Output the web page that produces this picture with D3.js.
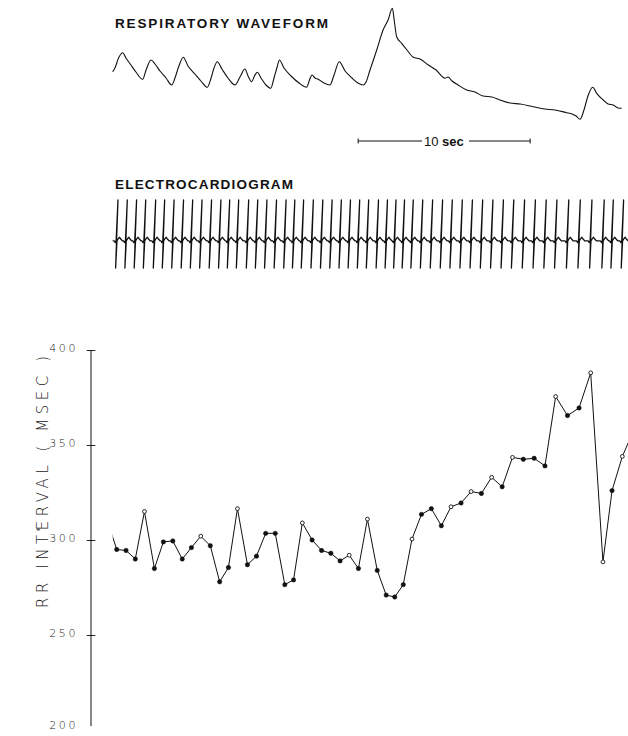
<!DOCTYPE html>
<html><head><meta charset="utf-8">
<script src="https://cdn.jsdelivr.net/npm/d3@7"></script>
<style>body{margin:0;background:#fff}svg{display:block}</style>
</head><body><svg id="c" width="628" height="736"></svg>
<script>
// ---- Respiratory waveform (time in s, amplitude arbitrary units) ----
const respTime = [0,0.13,0.34,0.58,0.77,1.06,1.35,1.74,1.94,2.23,2.46,2.75,3.10,3.43,3.62,3.85,4.10,4.38,4.78,5.13,5.50,5.72,5.89,6.08,6.35,6.70,7.11,7.40,7.69,7.87,8.08,8.24,8.41,8.62,8.91,9.19,9.38,9.56,9.69,9.96,10.37,10.83,11.28,11.44,11.59,11.76,11.95,12.28,12.63,12.87,13.17,13.51,13.91,14.26,14.57,14.73,14.96,15.35,15.72,16.01,16.26,16.38,16.51,16.80,17.11,17.48,17.87,18.35,18.80,19.32,19.49,19.73,20.08,20.58,21.06,21.53,22.05,22.52,23.10,23.69,24.45,25.13,25.72,26.40,26.71,26.94,27.17,27.40,27.63,27.91,28.14,28.52,28.80,29.10,29.38,29.59];
const respAmp  = [48.3,52,62,67.3,62,55,48,40.7,50,60,56,49,42,35,42,54,62.7,54,46,39,32.7,42,52,58.3,51,42,35,43,51,44,38.3,44,47.7,42,35,31.7,42,53,60,52,44,37,32.7,40,45,42,40.7,37,35,45,58.3,49,42,37,35,38,50,70,90,100,111.7,98,83.3,76.7,70,62.7,61,55,50,41.7,43,39,35,30,28,24,23,20,17,16,13.3,11,10,7.3,6,4,0.7,10,24,32.7,26.7,20,16,15,12,11.7];
const scaleBarSec = 10;
const scaleBarStart = 14.27;

// ---- RR interval series (ms); first value is the lead-in beat ----
const rrValues = [311,295,294.5,290,315,285,299,299.5,290,296,302,297,278,285.5,316.5,287,291.5,303.5,303.5,276.5,279,309,300,294.5,293,289,292,285,311,284,271,270,276.5,300.5,313.5,316.5,307.5,317.5,319.5,325.5,324.5,333,328,343.5,342.5,343,339,375.5,365.5,369.5,388,288.5,326,344,357];
const rrOpen = [4,10,14,21,26,28,33,37,39,41,43,47,50,51,53];
const rrTicks = [200,250,300,350,400];

// ---- ECG beat template: [ms offset from beat, mV] ----
const ecgTemplate = [[-75,0],[-45,-0.04],[-18,0.01],[40,1.0],[-35,-0.66],[8,0],[45,0.05],[90,0.09],[135,0.04],[185,0]];

const svg = d3.select("#c");
const W = 628;

const beatTimes = [];
let acc = 0;
rrValues.forEach(v => { beatTimes.push(acc); acc += v; });

const xRR = d3.scaleLinear().domain([0, 16500]).range([106.9, 106.9 + 16500 * 0.03155]);
const yRR = d3.scaleLinear().domain([200, 400]).range([730, 350]);

const xResp = d3.scaleLinear().domain([0, 30]).range([112.7, 112.7 + 30 * 17.2]);
const yResp = d3.scaleLinear().domain([0, 112]).range([120, 8]);

const yEcg = d3.scaleLinear().domain([-0.66, 1.0]).range([268, 200]);

svg.append("defs").append("clipPath").attr("id", "clipR")
  .append("rect").attr("x", 112.7).attr("y", 0).attr("width", W - 112.7).attr("height", 736);

const titleFont = "'Liberation Sans', Arial, sans-serif";
const thinFont = "'DejaVu Sans', sans-serif";

// Titles
svg.append("text").attr("x", 115).attr("y", 28.3)
  .attr("font-family", titleFont).attr("font-weight", "bold").attr("font-size", 13.5)
  .attr("textLength", 213).attr("lengthAdjust", "spacing").attr("fill", "#111")
  .text("RESPIRATORY WAVEFORM");
svg.append("text").attr("x", 115).attr("y", 189)
  .attr("font-family", titleFont).attr("font-weight", "bold").attr("font-size", 13.5)
  .attr("textLength", 178).attr("lengthAdjust", "spacing").attr("fill", "#111")
  .text("ELECTROCARDIOGRAM");

// Respiratory trace
const respData = respTime.map((t, i) => [t, respAmp[i]]);
svg.append("path").datum(respData)
  .attr("fill", "none").attr("stroke", "#111").attr("stroke-width", 1.1).attr("stroke-linejoin", "round")
  .attr("d", d3.line().curve(d3.curveMonotoneX).x(d => xResp(d[0])).y(d => yResp(d[1])));

// Scale bar
const sb = svg.append("g").attr("stroke", "#111").attr("stroke-width", 1);
const sx0 = xResp(scaleBarStart), sx1 = xResp(scaleBarStart + scaleBarSec);
const sby = 141;
sb.append("line").attr("x1", sx0).attr("x2", 422).attr("y1", sby).attr("y2", sby);
sb.append("line").attr("x1", 469).attr("x2", sx1).attr("y1", sby).attr("y2", sby);
sb.append("line").attr("x1", sx0).attr("x2", sx0).attr("y1", sby - 2.5).attr("y2", sby + 2.5);
sb.append("line").attr("x1", sx1).attr("x2", sx1).attr("y1", sby - 2.5).attr("y2", sby + 2.5);
const sbt = svg.append("text").attr("x", 424).attr("y", sby + 4.5)
  .attr("font-family", titleFont).attr("font-size", 13).attr("fill", "#111");
sbt.append("tspan").text("10 ");
sbt.append("tspan").attr("font-weight", "bold").text("sec");

// ECG trace
const ecgPts = [];
beatTimes.forEach(bt => {
  ecgTemplate.forEach(([dt, mv]) => ecgPts.push([bt + dt, mv]));
});
const ecgG = svg.append("g").attr("clip-path", "url(#clipR)");
ecgG.append("path").datum(ecgPts)
  .attr("fill", "none").attr("stroke", "#111").attr("stroke-width", 1.3).attr("stroke-linejoin", "round")
  .attr("d", d3.line().x(d => xRR(d[0])).y(d => yEcg(d[1])));

// RR axis
const axisX = 91;
const ax = svg.append("g").attr("transform", `translate(${axisX},0)`)
  .call(d3.axisLeft(yRR).tickValues(rrTicks).tickSize(4).tickPadding(9).tickSizeOuter(0));
ax.select(".domain").remove();
ax.selectAll(".tick line").attr("x1", 4.3).attr("x2", -4.3).attr("stroke", "#222")
  .filter(d => d === 200).remove();
ax.selectAll(".tick text").attr("font-family", thinFont).attr("font-size", 11)
  .attr("letter-spacing", 2.6).attr("fill", "#222").attr("font-weight", 200)
  .attr("transform", d => d === 200 ? "translate(0,-5)" : "translate(0,-2.5)");
svg.append("line").attr("x1", axisX).attr("x2", axisX).attr("y1", yRR(400)).attr("y2", 726)
  .attr("stroke", "#111").attr("stroke-width", 1);

svg.append("text").attr("transform", `translate(48,482) rotate(-90)`)
  .attr("text-anchor", "middle").attr("font-family", thinFont).attr("font-weight", 200)
  .attr("font-size", 15).attr("fill", "#222").attr("textLength", 252).attr("lengthAdjust", "spacing")
  .text("RR INTERVAL ( MSEC )");
svg.append("text").attr("x", 36).attr("y", 534).attr("font-size", 9).attr("fill", "#333").text("*");

// RR line and markers
const rrData = rrValues.map((v, i) => ({t: beatTimes[i], v, open: rrOpen.includes(i)}));
const rrG = svg.append("g").attr("clip-path", "url(#clipR)");
rrG.append("path").datum(rrData)
  .attr("fill", "none").attr("stroke", "#111").attr("stroke-width", 1)
  .attr("d", d3.line().x(d => xRR(d.t)).y(d => yRR(d.v)));
rrG.selectAll("circle").data(rrData.slice(1)).join("circle")
  .attr("cx", d => xRR(d.t)).attr("cy", d => yRR(d.v)).attr("r", d => d.open ? 1.9 : 2.2)
  .attr("fill", d => d.open ? "#fff" : "#111").attr("stroke", "#111").attr("stroke-width", d => d.open ? 0.9 : 0.5);
</script></body></html>
